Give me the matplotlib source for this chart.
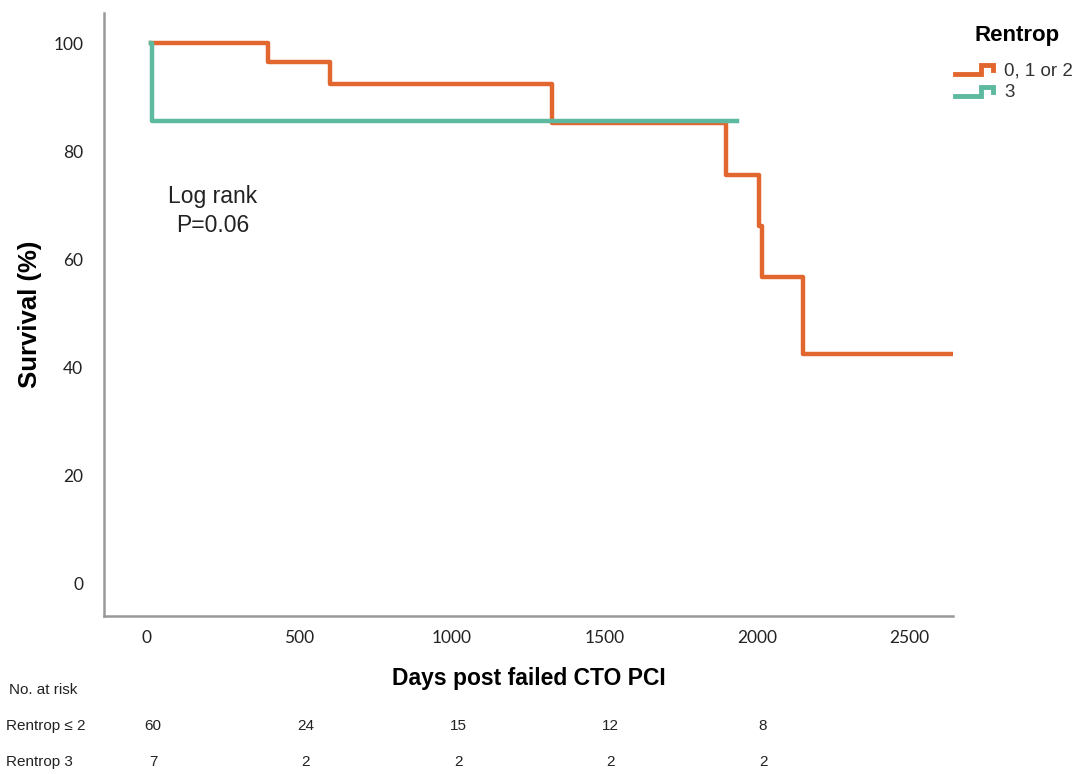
import matplotlib
matplotlib.use("Agg")
import matplotlib.pyplot as plt
from matplotlib.lines import Line2D
from matplotlib.legend_handler import HandlerBase
from matplotlib.transforms import blended_transform_factory

# Kaplan-Meier steps (days, survival %)
low_days = [12, 397, 600, 1328, 1898, 2007, 2016, 2151, 2643]
low_surv = [100, 96.6, 92.5, 85.2, 75.7, 66.2, 56.7, 42.4, 42.4]
high_days = [12, 15, 1934]
high_surv = [100, 85.7, 85.7]

group_labels = ["0, 1 or 2", "3"]
x_ticks = [0, 500, 1000, 1500, 2000, 2500]
risk_times = [0, 500, 1000, 1500, 2000]
risk_low = [60, 24, 15, 12, 8]
risk_high = [7, 2, 2, 2, 2]
row_names = ["Rentrop \u2264 2", "Rentrop 3"]

orange = "#E2672F"
green = "#5DB99F"


class StepHandler(HandlerBase):
    # little step icon like the SPSS legend
    def create_artists(self, legend, orig, xd, yd, w, h, fontsize, trans):
        xs = [xd, xd + w * 0.7, xd + w * 0.7, xd + w, xd + w]
        ys = [yd + h * 0.1, yd + h * 0.1, yd + h * 0.8, yd + h * 0.8, yd + h * 0.4]
        ln = Line2D(xs, ys, color=orig.get_color(), lw=3.5, solid_joinstyle="miter")
        ln.set_transform(trans)
        return [ln]


fig = plt.figure(figsize=(10.83, 7.74), dpi=100)
ax = fig.add_axes([0.096, 0.204, 0.784, 0.779])

l1, = ax.step(low_days, low_surv, where="post", color=orange, lw=3.2)
l2, = ax.step(high_days, high_surv, where="post", color=green, lw=3.2)

ax.set_xlim(-141, 2643)
ax.set_ylim(-6.1, 105.6)
ax.set_xticks(x_ticks)
ax.set_yticks([0, 20, 40, 60, 80, 100])
ax.tick_params(length=0, labelsize=12.5, labelcolor="#222222")
ax.tick_params(axis="x", pad=10)
ax.tick_params(axis="y", pad=15)
for lab in ax.get_xticklabels() + ax.get_yticklabels():
    lab.set_family("Lato")
for s in ["top", "right"]:
    ax.spines[s].set_visible(False)
for s in ["left", "bottom"]:
    ax.spines[s].set_color("#999999")
    ax.spines[s].set_linewidth(1.8)

ax.set_ylabel("Survival (%)", fontsize=18.5, fontweight="bold", family="Liberation Sans", labelpad=8)
ax.set_xlabel("Days post failed CTO PCI", fontsize=16.5, fontweight="bold", family="Liberation Sans", labelpad=15)

ax.text(215, 68.9, "Log rank\nP=0.06", ha="center", va="center", fontsize=16.5,
        family="Liberation Sans", color="#222222", linespacing=1.35)

# legend title drawn on its own so the gap matches the original
fig.text(1017 / 1083, 1 - 36 / 774, "Rentrop", ha="center", va="center", fontsize=16,
         fontweight="bold", family="Liberation Sans")
leg = fig.legend([l1, l2], group_labels, handler_map={Line2D: StepHandler()},
                 loc="upper left", bbox_to_anchor=(0.882, 1 - 62 / 774), frameon=False,
                 fontsize=13.5, handlelength=2.0, handletextpad=0.6,
                 labelspacing=0.26, borderaxespad=0, borderpad=0)
for t in leg.get_texts():
    t.set_family("Liberation Sans")
    t.set_color("#333333")

# number at risk table
tr = blended_transform_factory(ax.transData, fig.transFigure)
fig.text(0.008, 1 - 690 / 774, "No. at risk", fontsize=11, family="Liberation Sans", va="center", color="#222222")
row_y = [1 - 726 / 774, 1 - 762 / 774]
for name, vals, y in zip(row_names, [risk_low, risk_high], row_y):
    fig.text(0.006, y, name, fontsize=11, family="Liberation Sans", va="center", color="#222222")
    for t, v in zip(risk_times, vals):
        ax.text(t + 20, y, str(v), transform=tr, fontsize=11, family="Liberation Sans",
                va="center", ha="center", color="#222222", clip_on=False)

fig.savefig("out.png", dpi=100)
